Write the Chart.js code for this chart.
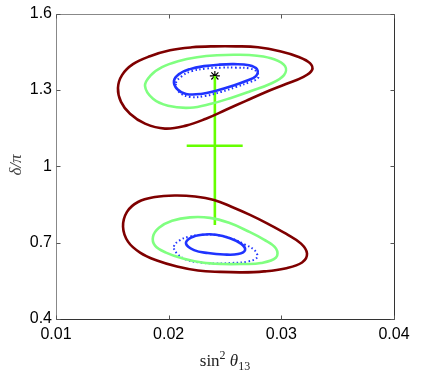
<!DOCTYPE html>
<html>
<head>
<meta charset="utf-8">
<script src="https://cdn.jsdelivr.net/npm/chart.js@4/dist/chart.umd.min.js"></script>
<style>
html,body{margin:0;padding:0;background:#fff;}
#wrap{width:436px;height:379px;position:relative;}
</style>
</head>
<body>
<div id="wrap"><canvas id="c" width="436" height="379"></canvas></div>
<script>
// Axis ticks
const xTicks = [0.01, 0.02, 0.03, 0.04];
const yTicks = [0.4, 0.7, 1, 1.3, 1.6];

// Upper region contours
const upOuterX = [0.01550,0.01586,0.01683,0.01834,0.02012,0.02207,0.02402,0.02598,0.02793,0.02988,0.03148,0.03254,0.03272,0.03192,0.03041,0.02864,0.02686,0.02509,0.02331,0.02154,0.01967,0.01790,0.01657,0.01577];
const upOuterY = [1.3078,1.3584,1.4013,1.4325,1.4558,1.4675,1.4714,1.4714,1.4675,1.4520,1.4305,1.4052,1.3779,1.3507,1.3234,1.2922,1.2572,1.2221,1.1870,1.1598,1.1481,1.1675,1.2065,1.2533];
const upMidX = [0.01790,0.01843,0.01941,0.02083,0.02252,0.02429,0.02607,0.02784,0.02935,0.03033,0.03024,0.02899,0.02731,0.02553,0.02376,0.02189,0.01994,0.01861];
const upMidY = [1.3156,1.3584,1.3896,1.4130,1.4286,1.4364,1.4383,1.4344,1.4208,1.3935,1.3584,1.3234,1.2961,1.2688,1.2455,1.2299,1.2377,1.2650];
const upInnerX = [0.02047,0.02092,0.02189,0.02314,0.02447,0.02580,0.02713,0.02784,0.02775,0.02686,0.02562,0.02429,0.02287,0.02154,0.02074];
const upInnerY = [1.3351,1.3623,1.3818,1.3935,1.3994,1.4013,1.3974,1.3818,1.3545,1.3351,1.3156,1.2981,1.2844,1.2844,1.3039];
const upDotX = [0.02065,0.02118,0.02207,0.02331,0.02465,0.02598,0.02722,0.02784,0.02793,0.02722,0.02598,0.02465,0.02323,0.02189,0.02092];
const upDotY = [1.3273,1.3545,1.3740,1.3838,1.3877,1.3877,1.3838,1.3701,1.3468,1.3312,1.3117,1.2922,1.2766,1.2727,1.2922];

// Lower region contours
const loOuterX = [0.01595,0.01630,0.01728,0.01879,0.02056,0.02234,0.02402,0.02562,0.02722,0.02882,0.03041,0.03175,0.03228,0.03184,0.03033,0.02846,0.02651,0.02456,0.02260,0.02074,0.01896,0.01746,0.01639];
const loOuterY = [0.7624,0.8208,0.8598,0.8792,0.8851,0.8812,0.8676,0.8403,0.8091,0.7740,0.7351,0.6961,0.6572,0.6221,0.5987,0.5870,0.5831,0.5851,0.5909,0.6065,0.6299,0.6610,0.7039];
const loMidX = [0.01861,0.01914,0.02030,0.02189,0.02367,0.02536,0.02695,0.02846,0.02953,0.02953,0.02820,0.02651,0.02473,0.02296,0.02127,0.01976,0.01879];
const loMidY = [0.7234,0.7584,0.7857,0.7994,0.7974,0.7779,0.7468,0.7117,0.6766,0.6416,0.6201,0.6162,0.6162,0.6221,0.6377,0.6610,0.6883];
const loInnerX = [0.02154,0.02198,0.02296,0.02420,0.02544,0.02642,0.02678,0.02615,0.02491,0.02349,0.02225];
const loInnerY = [0.6961,0.7195,0.7312,0.7312,0.7176,0.6961,0.6708,0.6552,0.6533,0.6591,0.6708];
const loDotX = [0.02047,0.02092,0.02180,0.02305,0.02438,0.02562,0.02678,0.02766,0.02784,0.02704,0.02562,0.02420,0.02278,0.02154,0.02074];
const loDotY = [0.6844,0.7078,0.7234,0.7312,0.7293,0.7156,0.6922,0.6688,0.6416,0.6260,0.6201,0.6182,0.6221,0.6338,0.6572];

// Best fit point and error bars
const bestX = [0.0241];
const bestY = [1.355];
const errVX = [0.0241, 0.0241];
const errVY = [1.355, 0.769];
const errHX = [0.0216, 0.02657];
const errHY = [1.081, 1.081];

function pts(xs, ys) {
  return xs.map((x, i) => ({x: x, y: ys[i]}));
}

const RED = '#7f0000', LGREEN = '#80ff80', BLUE = '#1f33ff', EGREEN = '#66ff00';

function contour(xs, ys, color, dash) {
  return {
    data: pts(xs, ys), showLine: true, closedLoop: true, spanGaps: true,
    borderColor: color, backgroundColor: color,
    borderWidth: dash ? 2 : 2.6, borderDash: dash || [], tension: 0.4, pointRadius: 0, fill: false
  };
}

// Make contour lines closed smooth loops
const closeLoops = {
  id: 'closeLoops',
  afterDatasetsUpdate(chart) {
    chart.data.datasets.forEach((ds, i) => {
      if (!ds.closedLoop) return;
      const line = chart.getDatasetMeta(i).dataset;
      if (line) {
        line._loop = true;
        line._fullLoop = true;
        line._pointsUpdated = false;
        delete line._segments;
        delete line._path;
      }
    });
  }
};

const frameTicks = {
  id: 'frameTicks',
  afterDatasetsDraw(chart) {
    const ctx = chart.ctx, a = chart.chartArea, xs = chart.scales.x, ys = chart.scales.y;
    ctx.save();
    ctx.lineWidth = 1;
    const L = Math.round(a.left) + 0.5, R = Math.round(a.right) + 0.5, T = Math.round(a.top) + 0.5, B = Math.round(a.bottom) + 0.5;
    ctx.strokeStyle = '#888';
    ctx.beginPath(); ctx.moveTo(L, B); ctx.lineTo(L, T); ctx.lineTo(R, T); ctx.stroke();
    ctx.strokeStyle = '#333';
    ctx.beginPath(); ctx.moveTo(L, B); ctx.lineTo(R, B); ctx.lineTo(R, T); ctx.stroke();
    ctx.strokeStyle = '#555';
    xTicks.forEach(v => {
      const px = Math.round(xs.getPixelForValue(v)) + 0.5;
      ctx.beginPath(); ctx.moveTo(px, B); ctx.lineTo(px, B - 4); ctx.moveTo(px, T); ctx.lineTo(px, T + 4); ctx.stroke();
    });
    yTicks.forEach(v => {
      const py = Math.round(ys.getPixelForValue(v)) + 0.5;
      ctx.beginPath(); ctx.moveTo(L, py); ctx.lineTo(L + 4, py); ctx.moveTo(R, py); ctx.lineTo(R - 4, py); ctx.stroke();
    });
    // axis titles
    ctx.fillStyle = '#222';
    ctx.textBaseline = 'alphabetic';
    const cx = (a.left + a.right) / 2;
    const parts = [
      {t: 'sin', f: '17px "Liberation Serif"', dy: 0},
      {t: '2', f: '12px "Liberation Serif"', dy: -7},
      {t: ' ', f: '17px "Liberation Serif"', dy: 0},
      {t: 'θ', f: 'italic 17px "Liberation Serif"', dy: 0},
      {t: '13', f: '12px "Liberation Serif"', dy: 4}
    ];
    let w = 0;
    parts.forEach(p => { ctx.font = p.f; p.w = ctx.measureText(p.t).width; w += p.w; });
    let x = cx - w / 2;
    const base = 366;
    parts.forEach(p => { ctx.font = p.f; ctx.fillText(p.t, x, base + p.dy); x += p.w; });
    // y title
    ctx.save();
    ctx.translate(21, 165);
    ctx.rotate(-Math.PI / 2);
    ctx.font = 'italic 17px "Liberation Serif"';
    ctx.fillStyle = '#444';
    ctx.textAlign = 'center';
    ctx.fillText('δ/π', 0, 0);
    ctx.restore();
    ctx.restore();
  }
};

new Chart(document.getElementById('c'), {
  type: 'scatter',
  data: {
    datasets: [
      contour(upOuterX, upOuterY, RED),
      contour(upMidX, upMidY, LGREEN),
      contour(upDotX, upDotY, BLUE, [1.5, 2.5]),
      contour(upInnerX, upInnerY, BLUE),
      contour(loOuterX, loOuterY, RED),
      contour(loMidX, loMidY, LGREEN),
      contour(loDotX, loDotY, BLUE, [1.5, 2.5]),
      contour(loInnerX, loInnerY, BLUE),
      {data: pts(errVX, errVY), showLine: true, borderColor: EGREEN, borderWidth: 2.6, pointRadius: 0, tension: 0},
      {data: pts(errHX, errHY), showLine: true, borderColor: EGREEN, borderWidth: 2.6, pointRadius: 0, tension: 0},
      {data: pts(bestX, bestY), showLine: false, pointStyle: 'star', pointRadius: 5, borderColor: '#000', backgroundColor: '#000', borderWidth: 1.2}
    ]
  },
  options: {
    responsive: false,
    animation: false,
    devicePixelRatio: 1,
    layout: {padding: {left: 0, right: 42, top: 11, bottom: 0}},
    plugins: {legend: {display: false}, tooltip: {enabled: false}},
    scales: {
      x: {
        type: 'linear', min: 0.01, max: 0.04,
        afterBuildTicks: s => { s.ticks = xTicks.map(v => ({value: v})); },
        afterFit: s => { s.height = 60; },
        grid: {display: false, drawTicks: false},
        border: {display: false},
        ticks: {padding: 6, color: '#000', font: {family: '"Liberation Sans"', size: 16}, maxRotation: 0,
          callback: v => String(v)}
      },
      y: {
        type: 'linear', min: 0.4, max: 1.6,
        afterBuildTicks: s => { s.ticks = yTicks.map(v => ({value: v})); },
        afterFit: s => { s.width = 56; },
        grid: {display: false, drawTicks: false},
        border: {display: false},
        ticks: {padding: 4, color: '#000', font: {family: '"Liberation Sans"', size: 16},
          callback: v => String(v)}
      }
    }
  },
  plugins: [closeLoops, frameTicks]
});
</script>
</body>
</html>
